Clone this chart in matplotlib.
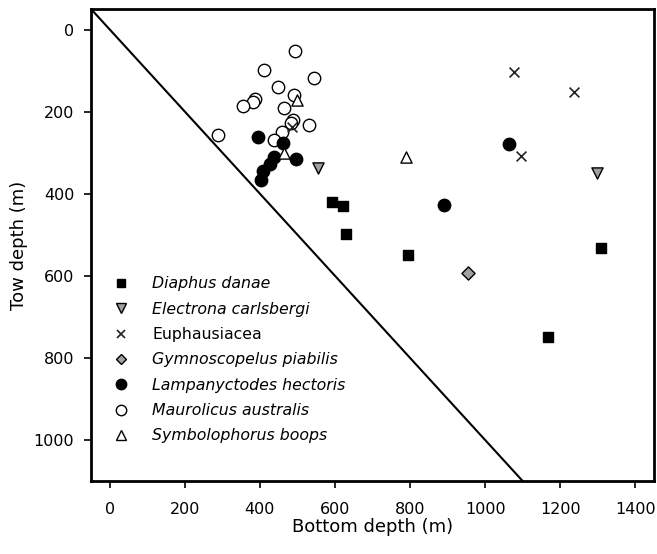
import matplotlib
matplotlib.use("Agg")
import matplotlib.pyplot as plt
from matplotlib.lines import Line2D

plt.rcParams['font.family'] = ['DejaVu Sans']

# Data (bottom depth, tow depth)
diaphus_x = [593, 622, 630, 795, 1309, 1168]
diaphus_y = [420, 430, 498, 550, 532, 748]

electrona_x = [555, 1299]
electrona_y = [338, 349]

euph_x = [485, 1077, 1237, 1096]
euph_y = [237, 103, 152, 307]

gymno_x = [954]
gymno_y = [593]

lamp_x = [395, 462, 496, 437, 428, 407, 402, 890, 1065]
lamp_y = [261, 277, 316, 311, 328, 345, 366, 428, 280]

maur_x = [494, 411, 545, 447, 490, 387, 382, 354, 463, 488, 483, 531, 459, 289, 437]
maur_y = [52, 99, 119, 140, 160, 169, 177, 186, 190, 221, 228, 233, 250, 256, 269]

symb_x = [499, 464, 789]
symb_y = [172, 301, 311]

line_x = [-50, 1100]
line_y = [-50, 1100]

labels = ["Diaphus danae", "Electrona carlsbergi", "Euphausiacea",
          "Gymnoscopelus piabilis", "Lampanyctodes hectoris",
          "Maurolicus australis", "Symbolophorus boops"]

fig = plt.figure(figsize=(6.57, 5.54), dpi=100)
ax = fig.add_axes([91/657, 1-481/554, (654-91)/657, (481-9)/554])

ax.plot(line_x, line_y, color='black', lw=1.5, zorder=1)

ax.scatter(diaphus_x, diaphus_y, marker='s', s=55, c='black', edgecolors='black', zorder=3)
ax.scatter(electrona_x, electrona_y, marker='v', s=65, c='#a0a0a0', edgecolors='black', linewidths=1, zorder=3)
ax.scatter(euph_x, euph_y, marker='x', s=50, c='#222222', linewidths=1.2, zorder=3)
ax.scatter(gymno_x, gymno_y, marker='D', s=45, c='#a0a0a0', edgecolors='black', linewidths=1, zorder=3)
ax.scatter(lamp_x, lamp_y, marker='o', s=80, c='black', edgecolors='black', zorder=3)
ax.scatter(maur_x, maur_y, marker='o', s=80, facecolors='white', edgecolors='black', linewidths=1, zorder=2)
ax.scatter(symb_x, symb_y, marker='^', s=65, facecolors='white', edgecolors='black', linewidths=1, zorder=3)

ax.set_xlim(-50, 1450)
ax.set_ylim(1100, -50)
ax.set_xticks(range(0, 1401, 200))
ax.set_yticks(range(0, 1001, 200))
ax.tick_params(labelsize=11.5, length=5, width=1.2, colors='black')
ax.tick_params(axis='x', pad=10)
ax.tick_params(axis='y', pad=7)
for s in ax.spines.values():
    s.set_linewidth(2)
ax.set_xlabel("Bottom depth (m)", fontsize=13, labelpad=1)
ax.set_ylabel("Tow depth (m)", fontsize=13)

handles = [
    Line2D([], [], ls='none', marker='s', ms=6, mfc='black', mec='black'),
    Line2D([], [], ls='none', marker='v', ms=6.5, mfc='#a0a0a0', mec='black'),
    Line2D([], [], ls='none', marker='x', ms=6, mec='#222222', mew=1.2),
    Line2D([], [], ls='none', marker='D', ms=5.5, mfc='#a0a0a0', mec='black'),
    Line2D([], [], ls='none', marker='o', ms=7.5, mfc='black', mec='black'),
    Line2D([], [], ls='none', marker='o', ms=7.5, mfc='white', mec='black'),
    Line2D([], [], ls='none', marker='^', ms=6.5, mfc='white', mec='black'),
]
leg = ax.legend(handles, labels, loc='upper left',
                bbox_to_anchor=((105-91)/563, (481-270)/472),
                frameon=False, fontsize=11.3, handletextpad=1.4,
                labelspacing=0.66, handlelength=1.2, borderaxespad=0)
for i, t in enumerate(leg.get_texts()):
    if labels[i] != "Euphausiacea":
        t.set_fontstyle('italic')

fig.savefig("out.png", dpi=100)
